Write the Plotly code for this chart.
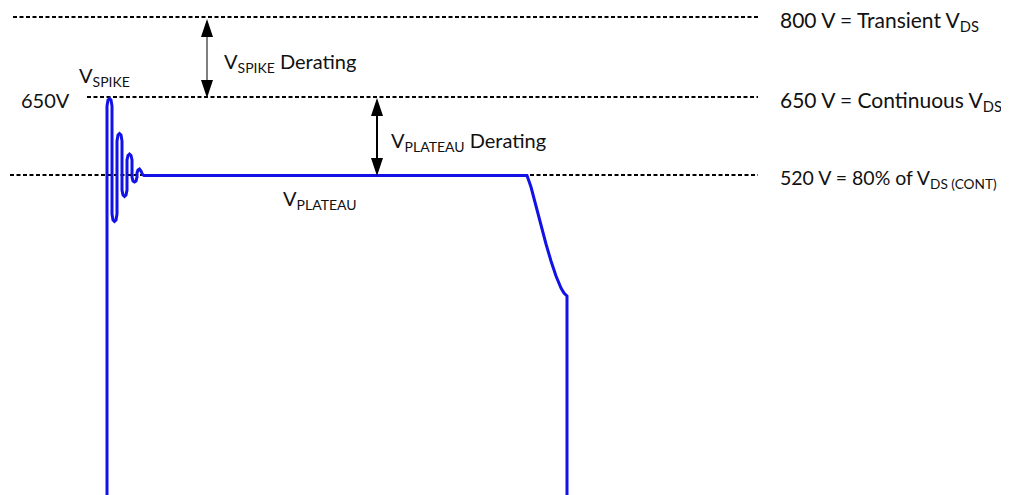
import plotly.graph_objects as go

# drain voltage waveform (x = time, y = screen level, top = 0)
wave_t = [107, 107, 108, 109.5, 111, 112, 112, 113, 114.5, 116, 117, 117, 118, 119.5, 121, 122,
          122, 123, 124.5, 126, 127, 127, 128, 129.5, 131, 132, 132, 133, 134.5, 136, 137,
          137, 138, 139.5, 141, 142.5, 144, 527, 531, 536, 541, 546, 551, 556, 561, 564, 567, 567]
wave_v = [500, 106, 100, 98.5, 100, 106, 214, 220, 221.5, 220, 214, 141, 135, 133.5, 135, 141,
          190, 195, 196.5, 195, 190, 160, 155.5, 154, 155.5, 160, 177, 181, 182, 181, 177,
          173, 170, 169, 171, 174.5, 175.5, 175.5, 187, 207, 226, 244, 261, 276, 288, 293, 296, 500]

# reference levels (dotted lines)
level_names = ["800 V = Transient V<sub>DS</sub>",
               "650 V = Continuous V<sub>DS</sub>",
               "520 V = 80% of V<sub>DS (CONT)</sub>"]
level_y = [17, 97, 175]
level_x0 = [13, 87, 10]
level_x1 = 758
level_font = [21, 21, 19.5]

# derating arrows: x, top, bottom, label, shaft colour
arrow_x = [207, 377]
arrow_top = [19, 98]
arrow_bot = [98, 176]
arrow_text = ["V<sub>SPIKE</sub> Derating", "V<sub>PLATEAU</sub> Derating"]
arrow_shaft = ["#7f7f7f", "#000000"]

FONT = "Lato"
BLUE = "#1212E6"
PAGE = 8  # the page body margin pushes the figure 8px right and down

fig = go.Figure()

for y, x0 in zip(level_y, level_x0):
    fig.add_trace(go.Scatter(x=[x0, level_x1], y=[y, y], mode="lines",
                             line=dict(color="black", width=2, dash="4px,2.5px"),
                             hoverinfo="skip"))

fig.add_trace(go.Scatter(x=wave_t, y=wave_v, mode="lines",
                         line=dict(color=BLUE, width=3), hoverinfo="skip"))

hw, hh = 6, 18
for x, top, bot, col in zip(arrow_x, arrow_top, arrow_bot, arrow_shaft):
    fig.add_shape(type="line", x0=x, x1=x, y0=top + hh - 2, y1=bot - hh + 2,
                  line=dict(color=col, width=2))
    fig.add_shape(type="path", path=f"M{x},{top} L{x - hw},{top + hh} L{x + hw},{top + hh} Z",
                  fillcolor="black", line=dict(width=0))
    fig.add_shape(type="path", path=f"M{x},{bot} L{x - hw},{bot - hh} L{x + hw},{bot - hh} Z",
                  fillcolor="black", line=dict(width=0))

def label(x, y, text, size=20):
    fig.add_annotation(x=x, y=y, text=text, showarrow=False, xanchor="left",
                       yanchor="middle", font=dict(family=FONT, size=size, color="#111111"))

for name, y, fs in zip(level_names, level_y, level_font):
    label(778, y + 4, name, fs)

label(222, 62, arrow_text[0])
label(389, 141, arrow_text[1])
label(77, 76, "V<sub>SPIKE</sub>")
label(281, 199, "V<sub>PLATEAU</sub>")
label(19, 100, "650V")

fig.update_xaxes(range=[PAGE, 1009 + PAGE], visible=False, fixedrange=True)
fig.update_yaxes(range=[495 + PAGE, PAGE], visible=False, fixedrange=True)
fig.update_layout(width=1009, height=495, margin=dict(l=0, r=0, t=0, b=0),
                  plot_bgcolor="white", paper_bgcolor="white", showlegend=False)

fig.write_html("out.html")
